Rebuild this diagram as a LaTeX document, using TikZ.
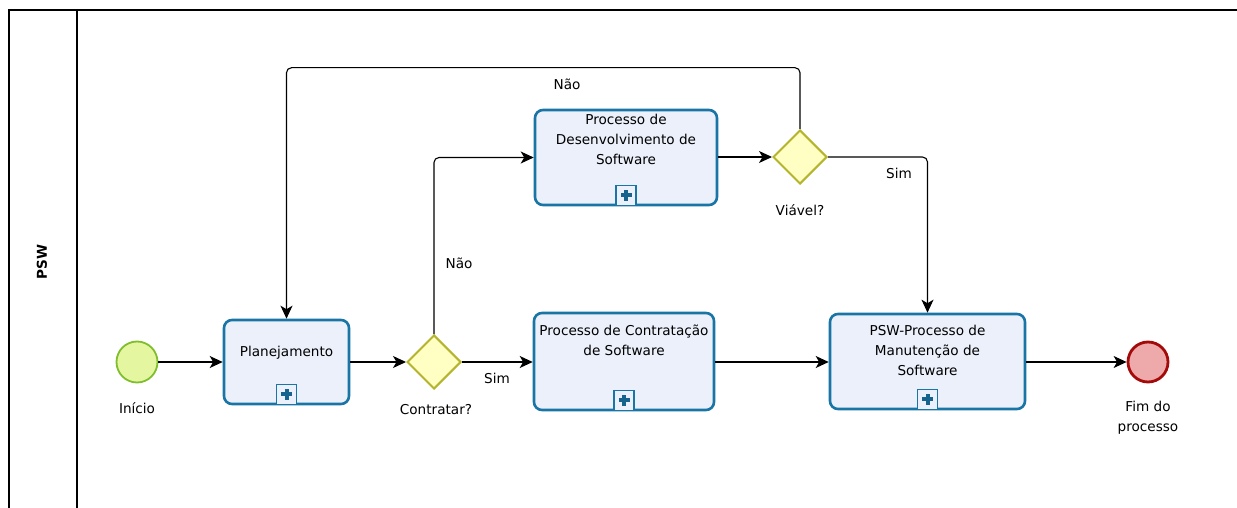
\documentclass[tikz,border=0pt]{standalone}
\usepackage{fontspec}
\setmainfont{DejaVu Sans}
\usepackage{xcolor}
\usetikzlibrary{shapes.geometric, arrows.meta, positioning, calc}

\definecolor{taskline}{RGB}{26,117,167}
\definecolor{taskfill}{RGB}{235,240,251}
\definecolor{startline}{RGB}{128,190,45}
\definecolor{startfill}{RGB}{228,246,160}
\definecolor{endline}{RGB}{165,10,10}
\definecolor{endfill}{RGB}{238,170,170}
\definecolor{gwline}{RGB}{180,180,45}
\definecolor{gwfill}{RGB}{255,255,196}

\begin{document}
\begin{tikzpicture}[
  x=1pt, y=-1pt,
  font=\fontsize{13.6}{20}\selectfont,
  taskbox/.style={
    rectangle,
    draw=taskline,
    fill=taskfill,
    line width=2.6pt,
    rounded corners=8pt,
    inner sep=0pt
  },
  tasklabel/.style={
    align=center,
    anchor=north,
    inner sep=0pt
  },
  subproc/.style={
    rectangle,
    draw=taskline,
    fill=taskfill,
    line width=1.6pt,
    minimum size=20pt,
    inner sep=0pt,
    path picture={
      \fill[taskline!85!black] ($(path picture bounding box.center)+(-5.5,-2)$) rectangle ($(path picture bounding box.center)+(5.5,2)$);
      \fill[taskline!85!black] ($(path picture bounding box.center)+(-2,-5.5)$) rectangle ($(path picture bounding box.center)+(2,5.5)$);
    }
  },
  gateway/.style={
    diamond,
    aspect=1,
    draw=gwline,
    fill=gwfill,
    line width=2pt,
    minimum width=54pt,
    minimum height=54pt,
    inner sep=0pt
  },
  startev/.style={
    circle,
    draw=startline,
    fill=startfill,
    line width=1.8pt,
    minimum size=41pt,
    inner sep=0pt
  },
  endev/.style={
    circle,
    draw=endline,
    fill=endfill,
    line width=2.8pt,
    minimum size=40pt,
    inner sep=0pt
  },
  evlabel/.style={
    align=center,
    inner sep=0pt
  },
  flow/.style={
    -{Stealth[length=13pt,width=12pt,inset=3.5pt]},
    line width=1.1pt,
    draw=black,
    rounded corners=5pt
  },
  poolline/.style={
    line width=1.4pt,
    draw=black
  }
]
\useasboundingbox (0,0) rectangle (1237,508);

% pool
\draw[poolline] (9,508) -- (9,10) -- (1237,10);
\draw[poolline] (77,10) -- (77,508);
\node[rotate=90, font=\fontsize{13.6}{15}\selectfont\bfseries] (psw) at (42,262) {PSW};

% events
\node[startev] (inicio) at (137,362) {};
\node[evlabel] (inicio-l) at (137,408) {Início};
\node[endev] (fim) at (1148,362) {};
\node[evlabel] (fim-l) at (1148,417.5) {Fim do\\processo};

% tasks
\node[taskbox, minimum width=125pt, minimum height=84pt] (plan) at (286.5,362) {};
\node[tasklabel] (plan-t) at ($(plan.north)+(0,27)$) {Planejamento};
\node[subproc] (plan-p) at ($(plan.south)+(0,-11)$) {};

\node[taskbox, minimum width=180pt, minimum height=97pt] (contr) at (624,361.5) {};
\node[tasklabel] (contr-t) at ($(contr.north)+(0,13.5)$) {Processo de Contratação\\de Software};
\node[subproc] (contr-p) at ($(contr.south)+(0,-11)$) {};

\node[taskbox, minimum width=182pt, minimum height=95pt] (desenv) at (626,157.5) {};
\node[tasklabel] (desenv-t) at ($(desenv.north)+(0,5.5)$) {Processo de\\Desenvolvimento de\\Software};
\node[subproc] (desenv-p) at ($(desenv.south)+(0,-11)$) {};

\node[taskbox, minimum width=195pt, minimum height=95pt] (manut) at (927.5,361.5) {};
\node[tasklabel] (manut-t) at ($(manut.north)+(0,12.5)$) {PSW-Processo de\\Manutenção de\\Software};
\node[subproc] (manut-p) at ($(manut.south)+(0,-11)$) {};

% gateways
\node[gateway] (contratar) at (434,362) {};
\node[evlabel] (contratar-l) at (436,410) {Contratar?};
\node[gateway] (viavel) at (800,157) {};
\node[evlabel] (viavel-l) at (800,210) {Viável?};

% flow labels
\node[evlabel] (sim1) at (497,378) {Sim};
\node[evlabel] (nao1) at (459,263) {Não};
\node[evlabel] (nao2) at (567,84) {Não};
\node[evlabel] (sim2) at (899,173) {Sim};

% flows
\path (plan.north) ++(0,-251) coordinate (loopback);
\draw[flow] (inicio) -- (plan);
\draw[flow] (plan) -- (contratar);
\draw[flow] (contratar.east) -- (contratar.east -| contr.west);
\draw[flow] (contr.east |- contratar.east) -- (manut.west |- contratar.east);
\draw[flow] (manut.east |- fim.west) -- (fim);
\draw[flow] (contratar.north) |- (desenv.west);
\draw[flow] (desenv.east |- viavel.west) -- (viavel);
\draw[flow] (viavel.east) -| (manut.north);
\draw[flow] (viavel.north) |- (loopback) -- (plan.north);

\end{tikzpicture}
\end{document}
